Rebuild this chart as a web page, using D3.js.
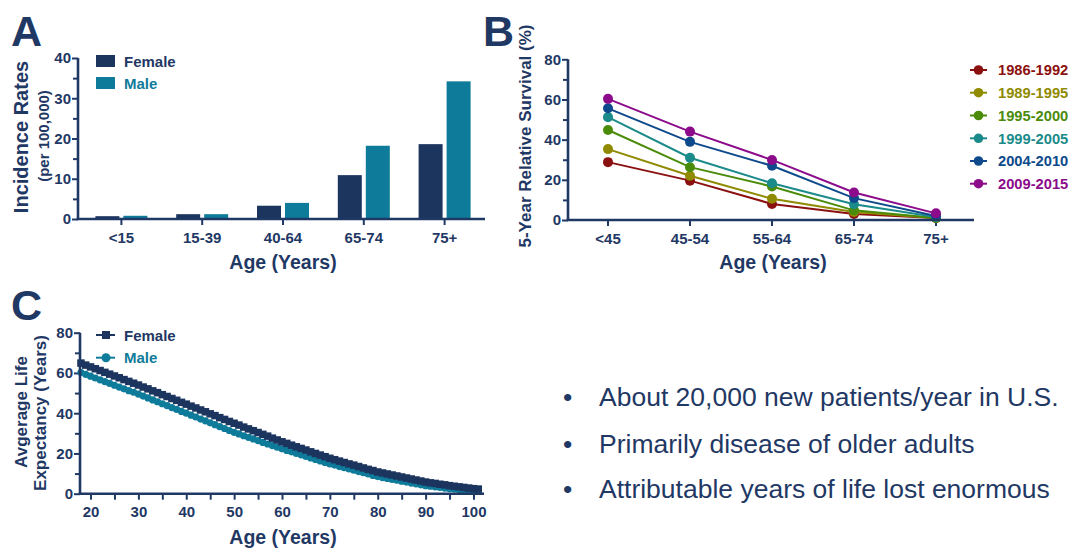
<!DOCTYPE html>
<html><head><meta charset="utf-8">
<script src="https://cdn.jsdelivr.net/npm/d3@7"></script>
<style>
body{margin:0;background:#fff}
svg{display:block}
text{font-family:"Liberation Sans",Arial,sans-serif}
</style>
</head><body>
<svg id="c" width="1073" height="550"></svg>
<script>
// ---------- Panel A data ----------
const ageGroupsA = ["<15","15-39","40-64","65-74","75+"];
const incidenceFemale = [0.7, 1.2, 3.3, 10.9, 18.6];
const incidenceMale   = [0.8, 1.2, 4.0, 18.2, 34.2];
const yTicksA = [0,10,20,30,40];
const yMinorA = [5,15,25,35];

// ---------- Panel B data ----------
const ageGroupsB = ["<45","45-54","55-64","65-74","75+"];
const periodsB = ["1986-1992","1989-1995","1995-2000","1999-2005","2004-2010","2009-2015"];
const surv1986 = [28.8, 19.6, 8.0, 3.0, 1.0];
const surv1989 = [35.3, 22.0, 10.6, 4.0, 1.0];
const surv1995 = [44.8, 26.3, 16.7, 4.8, 1.0];
const surv1999 = [51.2, 31.0, 18.3, 7.8, 1.5];
const surv2004 = [55.6, 38.9, 27.0, 10.9, 2.0];
const surv2009 = [60.3, 44.0, 29.9, 13.7, 3.3];
const yTicksB = [0,20,40,60,80];
const yMinorB = [10,30,50,70];

// ---------- Panel C data ----------
const agesC = [18,19,20,21,22,23,24,25,26,27,28,29,30,31,32,33,34,35,36,37,38,39,40,41,42,43,44,45,46,47,48,49,50,
  51,52,53,54,55,56,57,58,59,60,61,62,63,64,65,66,67,68,69,70,71,72,73,74,75,76,77,78,79,80,
  81,82,83,84,85,86,87,88,89,90,91,92,93,94,95,96,97,98,99,100,101];
const lifeFemale = [64.9,63.9,63.0,62.1,61.2,60.3,59.4,58.5,57.6,56.7,55.8,54.9,54.0,53.0,52.1,51.1,50.2,49.2,48.3,47.3,46.4,45.4,44.5,43.5,42.6,41.6,40.7,39.7,38.8,37.8,36.9,35.9,35.0,
  34.1,33.1,32.2,31.3,30.4,29.5,28.6,27.6,26.7,25.8,25.0,24.1,23.3,22.5,21.7,20.8,20.0,19.2,18.4,17.6,16.9,16.2,15.5,14.8,14.2,13.5,12.8,12.1,11.5,10.8,
  10.3,9.8,9.3,8.8,8.3,7.8,7.3,6.8,6.3,5.8,5.4,5.1,4.7,4.4,4.0,3.7,3.4,3.1,2.8,2.5,2.3];
const lifeMale = [60.2,59.3,58.4,57.5,56.6,55.7,54.8,53.9,53.0,52.1,51.2,50.4,49.5,48.5,47.6,46.6,45.7,44.7,43.8,42.8,41.9,40.9,40.0,39.0,38.1,37.1,36.2,35.2,34.3,33.3,32.4,31.4,30.5,
  29.7,28.8,28.0,27.2,26.4,25.5,24.7,23.9,23.1,22.3,21.5,20.8,20.0,19.3,18.5,17.8,17.0,16.3,15.5,14.8,14.2,13.5,12.9,12.3,11.7,11.0,10.4,9.8,9.1,8.5,
  8.0,7.6,7.1,6.7,6.2,5.8,5.3,4.9,4.4,4.0,3.7,3.4,3.1,2.8,2.5,2.3,2.0,1.8,1.6,1.5,1.3];
const xTicksC = [20,30,40,50,60,70,80,90,100];
const xMinorC = [25,35,45,55,65,75,85,95];
const yTicksC = [0,20,40,60,80];
const yMinorC = [10,30,50,70];

const bullets = ["About 20,000 new patients/year in U.S.","Primarily disease of older adults","Attributable years of life lost enormous"];

// ---------- styles ----------
const INK = "#1f3864";
const NAVY = "#1c355e";
const TEAL = "#0f7b9a";
const periodColors = ["#8b1010","#8f8a00","#4b8b0a","#1a8b8a","#0e4a8b","#8b0b8b"];
const AXW = 2.6;

const svg = d3.select("#c");

function styleAxis(g, fs){
  g.select(".domain").remove();
  g.selectAll(".tick line").attr("stroke", INK).attr("stroke-width", 2);
  g.selectAll(".tick text").attr("fill", INK).attr("font-size", fs).attr("font-weight","bold")
    .attr("font-family",'"Liberation Sans",Arial,sans-serif');
}
function axisLines(g, x0, x1, y0, y1){
  g.append("line").attr("x1",x0).attr("x2",x0).attr("y1",y0).attr("y2",y1)
    .attr("stroke",INK).attr("stroke-width",AXW);
  g.append("line").attr("x1",x0-AXW/2).attr("x2",x1).attr("y1",y1).attr("y2",y1)
    .attr("stroke",INK).attr("stroke-width",AXW);
}
function label(txt, x, y, size, opts={}){
  const t = svg.append("text").attr("x",x).attr("y",y).attr("fill",opts.fill||INK)
    .attr("font-size",size).attr("font-weight",opts.weight||"bold")
    .attr("text-anchor",opts.anchor||"start").text(txt);
  if(opts.rotate){ t.attr("transform",`rotate(-90,${x},${y})`).attr("dy","0.35em"); }
  return t;
}

// ================= Panel A =================
{
  const xA = d3.scaleBand().domain(ageGroupsA).range([81,485]);
  const yA = d3.scaleLinear().domain([0,40]).range([219,58]);
  const g = svg.append("g");
  const bw = 24, gap = 2;
  g.selectAll("rect.f").data(incidenceFemale).join("rect")
    .attr("x",(d,i)=>xA(ageGroupsA[i]) + xA.bandwidth()/2 - gap - bw)
    .attr("y",d=>yA(d)).attr("width",bw).attr("height",d=>yA(0)-yA(d)).attr("fill",NAVY);
  g.selectAll("rect.m").data(incidenceMale).join("rect")
    .attr("x",(d,i)=>xA(ageGroupsA[i]) + xA.bandwidth()/2 + gap)
    .attr("y",d=>yA(d)).attr("width",bw).attr("height",d=>yA(0)-yA(d)).attr("fill",TEAL);

  const gy = g.append("g").attr("transform","translate(78,0)")
    .call(d3.axisLeft(yA).tickValues(yTicksA).tickSize(6).tickPadding(1).tickFormat(d3.format("d")));
  styleAxis(gy,15);
  const gym = g.append("g").attr("transform","translate(78,0)")
    .call(d3.axisLeft(yA).tickValues(yMinorA).tickSize(5).tickFormat(""));
  styleAxis(gym,15);
  const gx = g.append("g").attr("transform","translate(0,219)")
    .call(d3.axisBottom(xA).tickSize(6).tickPadding(7));
  styleAxis(gx,15);
  axisLines(g,78,485,58,219);

  label("A",11,46,43);
  label("Incidence Rates",21,137,20,{anchor:"middle",rotate:true});
  label("(per 100,000)",44,136,15,{anchor:"middle",rotate:true});
  label("Age (Years)",283,269,19.5,{anchor:"middle"});

  // legend
  g.append("rect").attr("x",96).attr("y",55).attr("width",19).attr("height",12).attr("fill",NAVY);
  g.append("rect").attr("x",96).attr("y",77).attr("width",19).attr("height",12).attr("fill",TEAL);
  label("Female",124,66.5,15);
  label("Male",124,88.5,15,{fill:TEAL});
}

// ================= Panel B =================
{
  const xB = d3.scaleBand().domain(ageGroupsB).range([567,977]);
  const yB = d3.scaleLinear().domain([0,80]).range([220,59.3]);
  const g = svg.append("g");
  const series = [surv1986,surv1989,surv1995,surv1999,surv2004,surv2009];
  const cx = d => xB(d) + xB.bandwidth()/2;
  const line = d3.line().x((d,i)=>cx(ageGroupsB[i])).y(d=>yB(d));

  const gy = g.append("g").attr("transform","translate(568,0)")
    .call(d3.axisLeft(yB).tickValues(yTicksB).tickSize(6).tickPadding(1).tickFormat(d3.format("d")));
  styleAxis(gy,15);
  const gym = g.append("g").attr("transform","translate(568,0)")
    .call(d3.axisLeft(yB).tickValues(yMinorB).tickSize(5).tickFormat(""));
  styleAxis(gym,15);
  const gx = g.append("g").attr("transform","translate(0,220)")
    .call(d3.axisBottom(xB).tickSize(6).tickPadding(7));
  styleAxis(gx,15);

  series.forEach((s,k)=>{
    g.append("path").attr("d",line(s)).attr("fill","none").attr("stroke",periodColors[k]).attr("stroke-width",2);
    g.selectAll(null).data(s).join("circle")
      .attr("cx",(d,i)=>cx(ageGroupsB[i])).attr("cy",d=>yB(d)).attr("r",5).attr("fill",periodColors[k]);
  });
  axisLines(g,568,974,59.3,220);

  label("B",483,46,43);
  label("5-Year Relative Survival (%)",525,136,17,{anchor:"middle",rotate:true});
  label("Age (Years)",773,269,19.5,{anchor:"middle"});

  // legend
  const ly = [70,92.7,115.5,138.3,161,183.7];
  periodsB.forEach((p,k)=>{
    g.append("line").attr("x1",970).attr("x2",987).attr("y1",ly[k]).attr("y2",ly[k])
      .attr("stroke",periodColors[k]).attr("stroke-width",2);
    g.append("circle").attr("cx",978.5).attr("cy",ly[k]).attr("r",4.8).attr("fill",periodColors[k]);
    label(p,998,ly[k]+5.3,14.7,{fill:periodColors[k]});
  });
}

// ================= Panel C =================
{
  const xC = d3.scaleLinear().domain([17.8,102.2]).range([80,484]);
  const yC = d3.scaleLinear().domain([0,80]).range([493.7,332.7]);
  const g = svg.append("g");

  const gy = g.append("g").attr("transform","translate(80,0)")
    .call(d3.axisLeft(yC).tickValues(yTicksC).tickSize(6).tickPadding(1).tickFormat(d3.format("d")));
  styleAxis(gy,15);
  const gym = g.append("g").attr("transform","translate(80,0)")
    .call(d3.axisLeft(yC).tickValues(yMinorC).tickSize(5).tickFormat(""));
  styleAxis(gym,15);
  const gx = g.append("g").attr("transform","translate(0,493.7)")
    .call(d3.axisBottom(xC).tickValues(xTicksC).tickSize(6).tickPadding(7).tickFormat(d3.format("d")));
  styleAxis(gx,15);
  const gxm = g.append("g").attr("transform","translate(0,493.7)")
    .call(d3.axisBottom(xC).tickValues(xMinorC).tickSize(6).tickFormat(""));
  styleAxis(gxm,15);

  const lm = d3.line().x((d,i)=>xC(agesC[i])).y(d=>yC(d));
  g.append("path").attr("d",lm(lifeMale)).attr("fill","none").attr("stroke",TEAL).attr("stroke-width",2);
  g.selectAll(null).data(lifeMale).join("circle")
    .attr("cx",(d,i)=>xC(agesC[i])).attr("cy",d=>yC(d)).attr("r",3.6).attr("fill",TEAL);
  g.append("path").attr("d",lm(lifeFemale)).attr("fill","none").attr("stroke",NAVY).attr("stroke-width",2);
  const sq = 7.5;
  g.selectAll(null).data(lifeFemale).join("rect")
    .attr("x",(d,i)=>xC(agesC[i])-sq/2).attr("y",d=>yC(d)-sq/2).attr("width",sq).attr("height",sq).attr("fill",NAVY);

  axisLines(g,80,484,332.7,493.7);

  label("C",11,320,43);
  label("Avgerage Life",21.5,412,17,{anchor:"middle",rotate:true});
  label("Expectancy (Years)",40.5,413,17,{anchor:"middle",rotate:true});
  label("Age (Years)",283,544,19.5,{anchor:"middle"});

  // legend
  g.append("line").attr("x1",96).attr("x2",115).attr("y1",335).attr("y2",335).attr("stroke",NAVY).attr("stroke-width",2);
  g.append("rect").attr("x",102).attr("y",331).attr("width",8).attr("height",8).attr("fill",NAVY);
  g.append("line").attr("x1",96).attr("x2",115).attr("y1",357.7).attr("y2",357.7).attr("stroke",TEAL).attr("stroke-width",2);
  g.append("circle").attr("cx",106).attr("cy",357.7).attr("r",4.5).attr("fill",TEAL);
  label("Female",124,340.7,15);
  label("Male",124,363.2,15,{fill:TEAL});
}

// ================= Bullets =================
{
  const by = [405.7,453.3,498.3];
  bullets.forEach((b,i)=>{
    label("•",563,by[i],26.5,{weight:"normal"});
    label(b,599,by[i],26.5,{weight:"normal"});
  });
}
</script>
</body></html>
